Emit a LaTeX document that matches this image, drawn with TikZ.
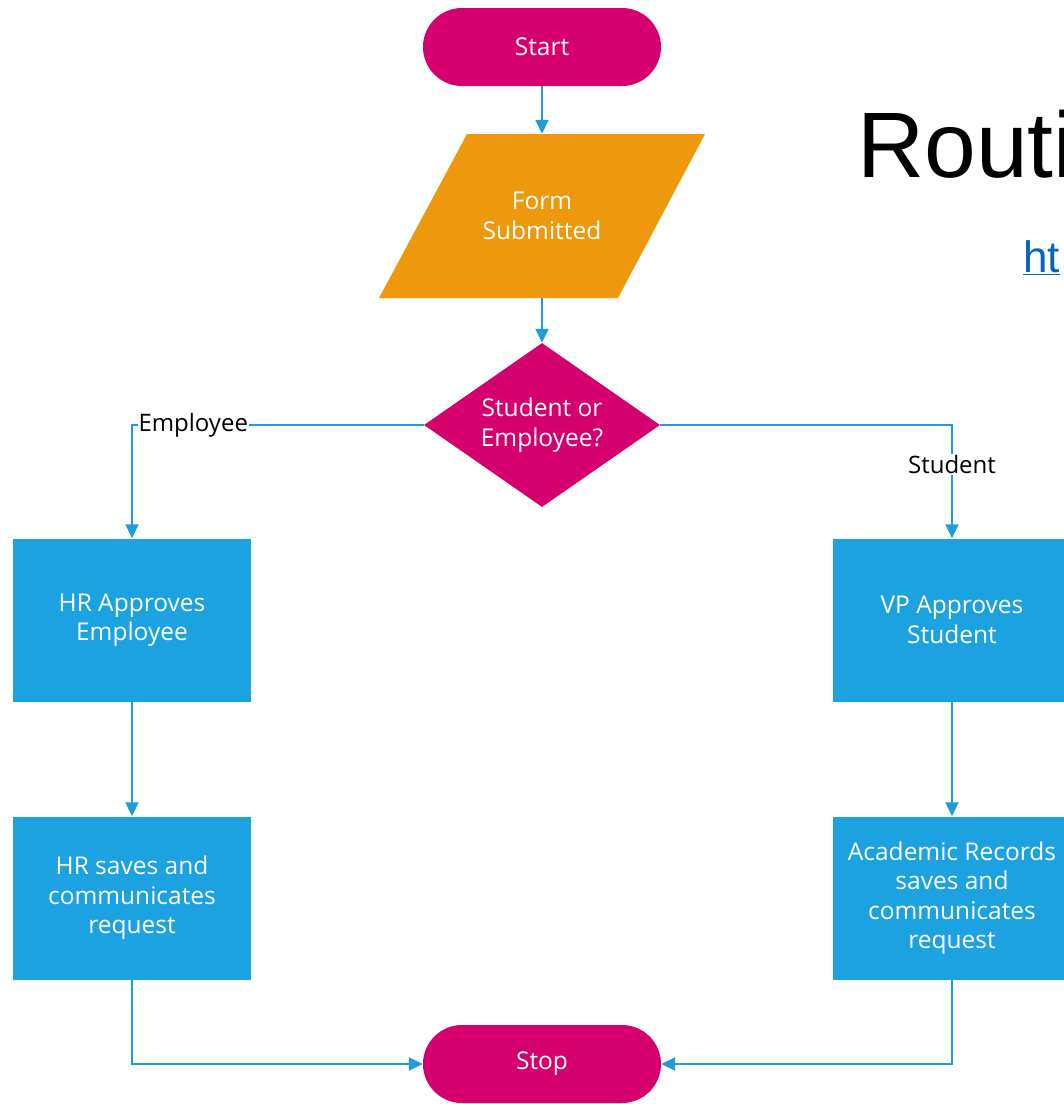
\documentclass[tikz,border=0pt]{standalone}
\usepackage{fontspec}
\setmainfont{Open Sans}
\newfontfamily\titlefont{Liberation Sans}
\usetikzlibrary{shapes.geometric,arrows.meta}
\definecolor{magen}{HTML}{D5006D}
\definecolor{orng}{HTML}{EE990D}
\definecolor{bluebox}{HTML}{1CA1E1}
\definecolor{blueline}{HTML}{1E9DDA}
\definecolor{linkblue}{HTML}{0563C1}
\tikzset{
  nodefont/.style={font=\fontsize{24.5}{30}\selectfont},
  term/.style={rectangle, rounded corners=39pt, fill=magen, minimum width=238pt, minimum height=78pt, inner sep=0pt, text=white, nodefont},
  procbox/.style={rectangle, fill=bluebox, minimum width=238pt, minimum height=163pt, inner sep=0pt, text=white, align=center, font=\fontsize{24.5}{29.5}\selectfont},
  decis/.style={diamond, fill=magen, minimum width=236pt, minimum height=164pt, inner sep=0pt},
  dectext/.style={text=white, align=center, nodefont, inner sep=0pt},
  iobox/.style={rectangle, minimum width=160pt, minimum height=164pt, inner sep=0pt, text=white, align=center, nodefont},
  conn/.style={draw=blueline, line width=1.8pt},
  arr/.style={conn, -{Triangle[length=14pt,width=13pt]}},
  lbl/.style={fill=white, inner sep=1pt, text=black, font=\fontsize{24}{26}\selectfont},
}
\begin{document}
\begin{tikzpicture}[x=1pt,y=-1pt]
\useasboundingbox (0,0) rectangle (1064,1104);
\fill[white] (0,0) rectangle (1064,1104);
% title and link
\node[anchor=base west, inner sep=0pt, font=\titlefont\fontsize{93}{100}\selectfont] (title) at (857,177) {Routi};
\node[anchor=base west, inner sep=0pt, text=linkblue, font=\titlefont\fontsize{44}{50}\selectfont] (link) at (1023,272) {\underline{ht}};
% nodes
\node[term] (start) at (542,47) {Start};
\fill[orng] (467,134) -- (705,134) -- (618,298) -- (379,298) -- cycle;
\node[iobox] (form) at (542,216) {Form\\Submitted};
\node[decis, label={[dectext]center:Student or\\Employee?}] (dec) at (542,425) {};
\node[procbox] (hr1) at (132,620) {HR Approves\\Employee};
\node[procbox] (vp) at (952,620) {VP Approves\\Student};
\node[procbox] (hr2) at (132,898) {HR saves and\\communicates\\request};
\node[procbox] (ac) at (952,898) {Academic Records\\saves and\\communicates\\request};
\node[term] (stop) at (542,1064) {Stop};
% connectors
\draw[arr] (start) -- (form);
\draw[arr] (form) -- (dec);
\draw[arr] (dec.west) -| node[lbl, pos=0.395] {Employee} (hr1.north);
\draw[arr] (dec.east) -| node[lbl, pos=0.674] {Student} (vp.north);
\draw[arr] (hr1) -- (hr2);
\draw[arr] (vp) -- (ac);
\draw[arr] (hr2.south) |- (stop.west);
\draw[arr] (ac.south) |- (stop.east);
\end{tikzpicture}
\end{document}
